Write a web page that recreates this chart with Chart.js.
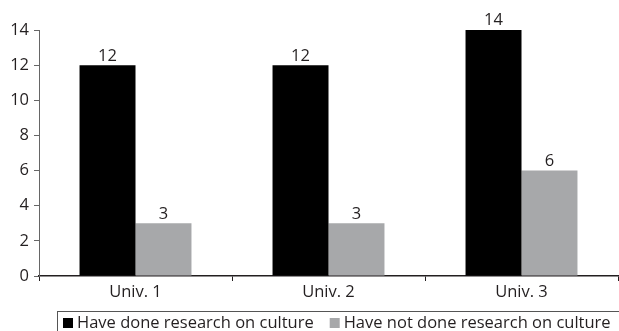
<!DOCTYPE html>
<html>
<head>
<meta charset="utf-8">
<script src="https://cdn.jsdelivr.net/npm/chart.js@4"></script>
<style>
  html, body { margin: 0; padding: 0; background: #fff; }
  #wrap { width: 619px; height: 331px; position: relative; }
</style>
</head>
<body>
<div id="wrap"><canvas id="chart"></canvas></div>
<script>
// chart data
const categories = ['Univ. 1', 'Univ. 2', 'Univ. 3'];
const doneValues = [12, 12, 14];
const notDoneValues = [3, 3, 6];
const seriesNames = ['Have done research on culture', 'Have not done research on culture'];
const yTicks = [0, 2, 4, 6, 8, 10, 12, 14];

const FONT = '"Open Sans", sans-serif';
const SIZE = 16.5;
const TEXT = '#231f20';

// value labels above each bar
const valueLabels = {
  id: 'valueLabels',
  afterDatasetsDraw(chart) {
    const ctx = chart.ctx;
    ctx.save();
    ctx.font = SIZE + 'px ' + FONT;
    ctx.fillStyle = TEXT;
    ctx.textAlign = 'center';
    ctx.textBaseline = 'bottom';
    chart.data.datasets.forEach((ds, i) => {
      chart.getDatasetMeta(i).data.forEach((bar, j) => {
        ctx.fillText(ds.data[j], bar.x, bar.y - 1);
      });
    });
    ctx.restore();
  }
};

// boxed legend along the bottom
const boxLegend = {
  id: 'boxLegend',
  afterDraw(chart) {
    const ctx = chart.ctx;
    const top = 311, left = 57;
    ctx.save();
    ctx.strokeStyle = '#555';
    ctx.lineWidth = 1;
    ctx.strokeRect(left + 0.5, top + 0.5, chart.width, 40);
    ctx.font = SIZE + 'px ' + FONT;
    ctx.textBaseline = 'middle';
    let x = 63;
    chart.data.datasets.forEach((ds) => {
      ctx.fillStyle = ds.backgroundColor;
      ctx.fillRect(x, 318, 10, 10);
      ctx.fillStyle = TEXT;
      ctx.fillText(ds.label, x + 14, 323);
      x += 14 + ctx.measureText(ds.label).width + 16;
    });
    ctx.restore();
  }
};

new Chart(document.getElementById('chart'), {
  type: 'bar',
  data: {
    labels: categories,
    datasets: [
      { label: seriesNames[0], data: doneValues, backgroundColor: '#000000' },
      { label: seriesNames[1], data: notDoneValues, backgroundColor: '#a7a8aa' }
    ]
  },
  options: {
    responsive: true,
    maintainAspectRatio: false,
    animation: false,
    datasets: {
      bar: { categoryPercentage: 0.58, barPercentage: 1 }
    },
    layout: { padding: { top: 30, right: 1, left: 0, bottom: 0 } },
    plugins: {
      legend: { display: false },
      tooltip: { enabled: false }
    },
    scales: {
      x: {
        grid: { drawOnChartArea: false, offset: true, tickLength: 5, color: '#231f20' },
        border: { color: '#231f20', width: 1.5 },
        ticks: { color: TEXT, font: { family: FONT, size: SIZE }, padding: 1 },
        afterFit(scale) { scale.height = 55; }
      },
      y: {
        min: 0,
        max: 14,
        afterBuildTicks(scale) { scale.ticks = yTicks.map(v => ({ value: v })); },
        grid: { drawOnChartArea: false, tickLength: 5, color: '#666' },
        border: { color: '#666', width: 1 },
        ticks: { color: TEXT, font: { family: FONT, size: SIZE }, padding: 5 },
        afterFit(scale) { scale.width = 39; }
      }
    }
  },
  plugins: [valueLabels, boxLegend]
});
</script>
</body>
</html>
